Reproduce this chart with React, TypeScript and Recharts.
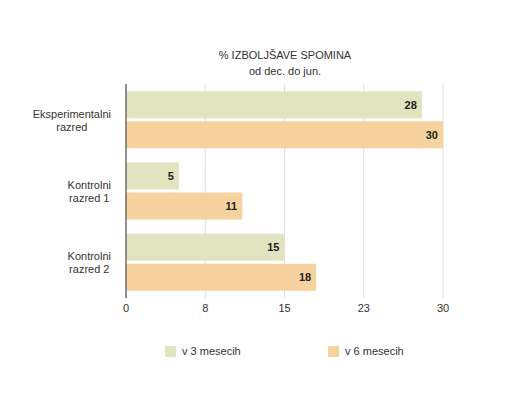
import { Bar, BarChart, CartesianGrid, LabelList, XAxis, YAxis } from "recharts";

const categories = ["Eksperimentalni razred", "Kontrolni razred 1", "Kontrolni razred 2"];
const tickLines: string[][] = [
  ["Eksperimentalni", "razred"],
  ["Kontrolni", "razred 1"],
  ["Kontrolni", "razred 2"],
];
const threeMonths = [28, 5, 15];
const sixMonths = [30, 11, 18];
const xTicks = [0, 7.5, 15, 22.5, 30];

const GREEN = "#e1e4bf";
const PEACH = "#f6d29f";
const FONT = "'Liberation Sans', Arial, Helvetica, sans-serif";

const rows = categories.map((name, i) => ({
  name,
  idx: i,
  m3: threeMonths[i],
  m6: sixMonths[i],
}));

let ctx: CanvasRenderingContext2D | null = null;
function textWidth(s: string) {
  if (!ctx) ctx = document.createElement("canvas").getContext("2d");
  if (!ctx) return s.length * 6;
  ctx.font = `11px ${FONT}`;
  return ctx.measureText(s).width;
}

function CategoryTick(props: any) {
  const { y, payload } = props;
  const i = categories.indexOf(payload.value);
  const lines = tickLines[i] ?? [payload.value];
  const w = Math.max(...lines.map(textWidth));
  const right = 111;
  const cx = right - w / 2;
  return (
    <text textAnchor="middle" fill="#333" fontSize={11} fontFamily={FONT}>
      <tspan x={cx} y={y - 6} dominantBaseline="central">
        {lines[0]}
      </tspan>
      <tspan x={cx} y={y + 7} dominantBaseline="central">
        {lines[1]}
      </tspan>
    </text>
  );
}

export default function App() {
  return (
    <div style={{ position: "absolute", left: 0, top: 0, width: 515, height: 397, background: "#fff", fontFamily: FONT }}>
      <div
        style={{
          position: "absolute",
          left: 185,
          width: 200,
          top: 47,
          textAlign: "center",
          fontSize: 11,
          lineHeight: "16px",
          color: "#333",
        }}
      >
        % IZBOLJŠAVE SPOMINA
        <br />
        od dec. do jun.
      </div>

      <BarChart
        width={515}
        height={397}
        data={rows}
        layout="vertical"
        margin={{ top: 84, right: 72, bottom: 79, left: 0 }}
        barCategoryGap="10%"
        barGap={3}
      >
        <CartesianGrid horizontal={false} vertical stroke="#dedede" />
        <XAxis
          type="number"
          domain={[0, 30]}
          ticks={xTicks}
          tickFormatter={(v: number) => String(Math.round(v))}
          axisLine={false}
          tickLine={false}
          tick={{ fill: "#333", fontSize: 11, fontFamily: FONT }}
          tickMargin={0}
          height={20}
        />
        <YAxis
          type="category"
          dataKey="name"
          width={126}
          axisLine={{ stroke: "#333", strokeWidth: 1 }}
          tickLine={false}
          tick={<CategoryTick />}
        />
        <Bar dataKey="m3" fill={GREEN} isAnimationActive={false}>
          <LabelList dataKey="m3" position="insideRight" fill="#222" fontSize={11} fontWeight={700} fontFamily={FONT} />
        </Bar>
        <Bar dataKey="m6" fill={PEACH} isAnimationActive={false}>
          <LabelList dataKey="m6" position="insideRight" fill="#222" fontSize={11} fontWeight={700} fontFamily={FONT} />
        </Bar>
      </BarChart>

      <div style={{ position: "absolute", left: 165, top: 346, width: 11, height: 11, background: GREEN }} />
      <div style={{ position: "absolute", left: 182, top: 344, fontSize: 11, lineHeight: "14px", color: "#333" }}>
        v 3 mesecih
      </div>
      <div style={{ position: "absolute", left: 328, top: 346, width: 11, height: 11, background: PEACH }} />
      <div style={{ position: "absolute", left: 345, top: 344, fontSize: 11, lineHeight: "14px", color: "#333" }}>
        v 6 mesecih
      </div>
    </div>
  );
}
